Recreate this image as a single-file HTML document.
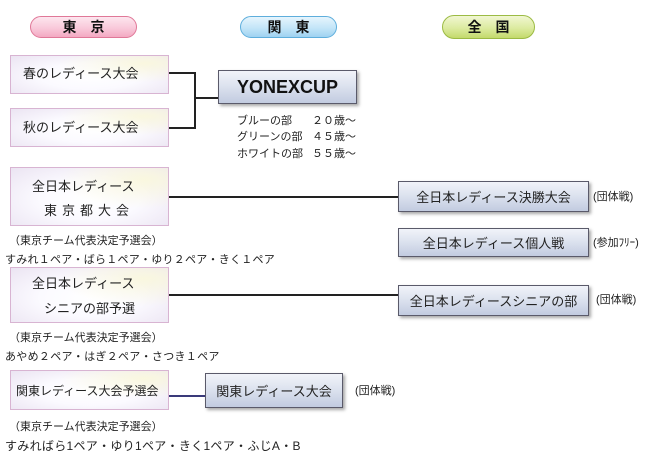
<!DOCTYPE html>
<html>
<head>
<meta charset="utf-8">
<style>
  html, body { margin:0; padding:0; }
  body { width:650px; height:458px; background:#fff; position:relative; overflow:hidden;
         font-family:"Liberation Sans","Noto Sans CJK JP",sans-serif; color:#222; }
  .abs { position:absolute; }
  .pill { position:absolute; border-radius:12px; font-weight:bold; font-size:14px; color:#111;
          display:flex; align-items:center; justify-content:center; box-sizing:border-box; }
  .tk { position:absolute; box-sizing:border-box; border:1px solid #d8b4d2;
        background:
          radial-gradient(ellipse at 85% 20%, rgba(250,248,220,0.9) 0%, rgba(250,248,220,0) 45%),
          radial-gradient(ellipse at 50% 55%, #ffffff 0%, #fbfaff 45%, #ebe4f2 100%);
        font-size:13px; color:#222; }
  .bl { position:absolute; box-sizing:border-box; border:1px solid #5a5a6a;
        background:linear-gradient(to bottom, #f1f3f9 0%, #dde3ef 45%, #c2cbe0 100%);
        box-shadow:2px 2px 3px rgba(0,0,0,0.35);
        font-size:13px; color:#222; display:flex; align-items:center; justify-content:center; }
  .ln { position:absolute; background:#222; }
  .t11 { position:absolute; font-size:11px; color:#222; white-space:nowrap; line-height:12px; }
  .t13 { position:absolute; font-size:13px; white-space:nowrap; line-height:14px; }
</style>
</head>
<body>

<!-- headers -->
<div class="pill" style="left:30px;top:16px;width:107px;height:22px;border:1px solid #e07898;
  background:linear-gradient(to bottom,#fde6ef 0%,#f9c9da 55%,#f3a9c2 100%);">東　京</div>
<div class="pill" style="left:240px;top:16px;width:97px;height:22px;border:1px solid #5eaedc;
  background:linear-gradient(to bottom,#e6f5fd 0%,#c3e5f8 55%,#9fd2f1 100%);">関　東</div>
<div class="pill" style="left:442px;top:15px;width:93px;height:24px;border:1px solid #9cbb44;
  background:linear-gradient(to bottom,#f1f7d2 0%,#dcebA0 55%,#c3da6c 100%);">全　国</div>

<!-- Tokyo boxes -->
<div class="tk" style="left:10px;top:55px;width:159px;height:39px;">
  <div class="t13" style="left:12px;top:11px;">春のレディース大会</div>
</div>
<div class="tk" style="left:10px;top:108px;width:159px;height:39px;">
  <div class="t13" style="left:12px;top:12px;">秋のレディース大会</div>
</div>

<!-- bracket to YONEX -->
<div class="ln" style="left:169px;top:72px;width:27px;height:2px;"></div>
<div class="ln" style="left:194px;top:72px;width:2px;height:57px;"></div>
<div class="ln" style="left:169px;top:127px;width:27px;height:2px;"></div>
<div class="ln" style="left:195px;top:97px;width:24px;height:2px;"></div>

<!-- YONEX -->
<div class="bl" style="left:218px;top:70px;width:139px;height:34px;font-weight:bold;font-size:18px;color:#111;">YONEXCUP</div>
<div class="t11" style="left:237px;top:115px;">ブルーの部</div>
<div class="t11" style="left:312px;top:115px;">２０歳～</div>
<div class="t11" style="left:237px;top:131px;">グリーンの部</div>
<div class="t11" style="left:312px;top:131px;">４５歳～</div>
<div class="t11" style="left:237px;top:148px;">ホワイトの部</div>
<div class="t11" style="left:312px;top:148px;">５５歳～</div>

<!-- 全日本 東京都大会 -->
<div class="tk" style="left:10px;top:167px;width:159px;height:59px;">
  <div class="t13" style="left:21px;top:12px;">全日本レディース</div>
  <div class="t13" style="left:33px;top:36px;letter-spacing:5px;">東京都大会</div>
</div>
<div class="ln" style="left:169px;top:196px;width:230px;height:2px;"></div>
<div class="t11" style="left:9px;top:235px;">（東京チーム代表決定予選会）</div>
<div class="t11" style="left:5px;top:254px;letter-spacing:0.25px;">すみれ１ペア・ばら１ペア・ゆり２ペア・きく１ペア</div>

<!-- 全日本 シニア -->
<div class="tk" style="left:10px;top:267px;width:159px;height:56px;">
  <div class="t13" style="left:21px;top:9px;">全日本レディース</div>
  <div class="t13" style="left:33px;top:34px;">シニアの部予選</div>
</div>
<div class="ln" style="left:169px;top:294px;width:230px;height:2px;"></div>
<div class="t11" style="left:9px;top:332px;">（東京チーム代表決定予選会）</div>
<div class="t11" style="left:5px;top:351px;letter-spacing:0.3px;">あやめ２ペア・はぎ２ペア・さつき１ペア</div>

<!-- 関東予選会 -->
<div class="tk" style="left:10px;top:370px;width:159px;height:40px;">
  <div class="abs" style="left:5px;top:13px;font-size:12px;line-height:14px;white-space:nowrap;">関東レディース大会予選会</div>
</div>
<div class="ln" style="left:169px;top:395px;width:37px;height:2px;background:#3a3a7a;"></div>
<div class="bl" style="left:205px;top:373px;width:138px;height:35px;">関東レディース大会</div>
<div class="t11" style="left:355px;top:385px;">(団体戦)</div>
<div class="t11" style="left:9px;top:421px;">（東京チーム代表決定予選会）</div>
<div class="abs" style="left:5px;top:440px;font-size:12px;line-height:13px;white-space:nowrap;letter-spacing:0.3px;">すみればら1ペア・ゆり1ペア・きく1ペア・ふじA・B</div>

<!-- national boxes -->
<div class="bl" style="left:398px;top:181px;width:191px;height:31px;">全日本レディース決勝大会</div>
<div class="t11" style="left:593px;top:191px;">(団体戦)</div>
<div class="bl" style="left:398px;top:228px;width:191px;height:29px;">全日本レディース個人戦</div>
<div class="t11" style="left:593px;top:237px;">(参加ﾌﾘｰ)</div>
<div class="bl" style="left:398px;top:285px;width:191px;height:31px;">全日本レディースシニアの部</div>
<div class="t11" style="left:596px;top:294px;">(団体戦)</div>

</body>
</html>
